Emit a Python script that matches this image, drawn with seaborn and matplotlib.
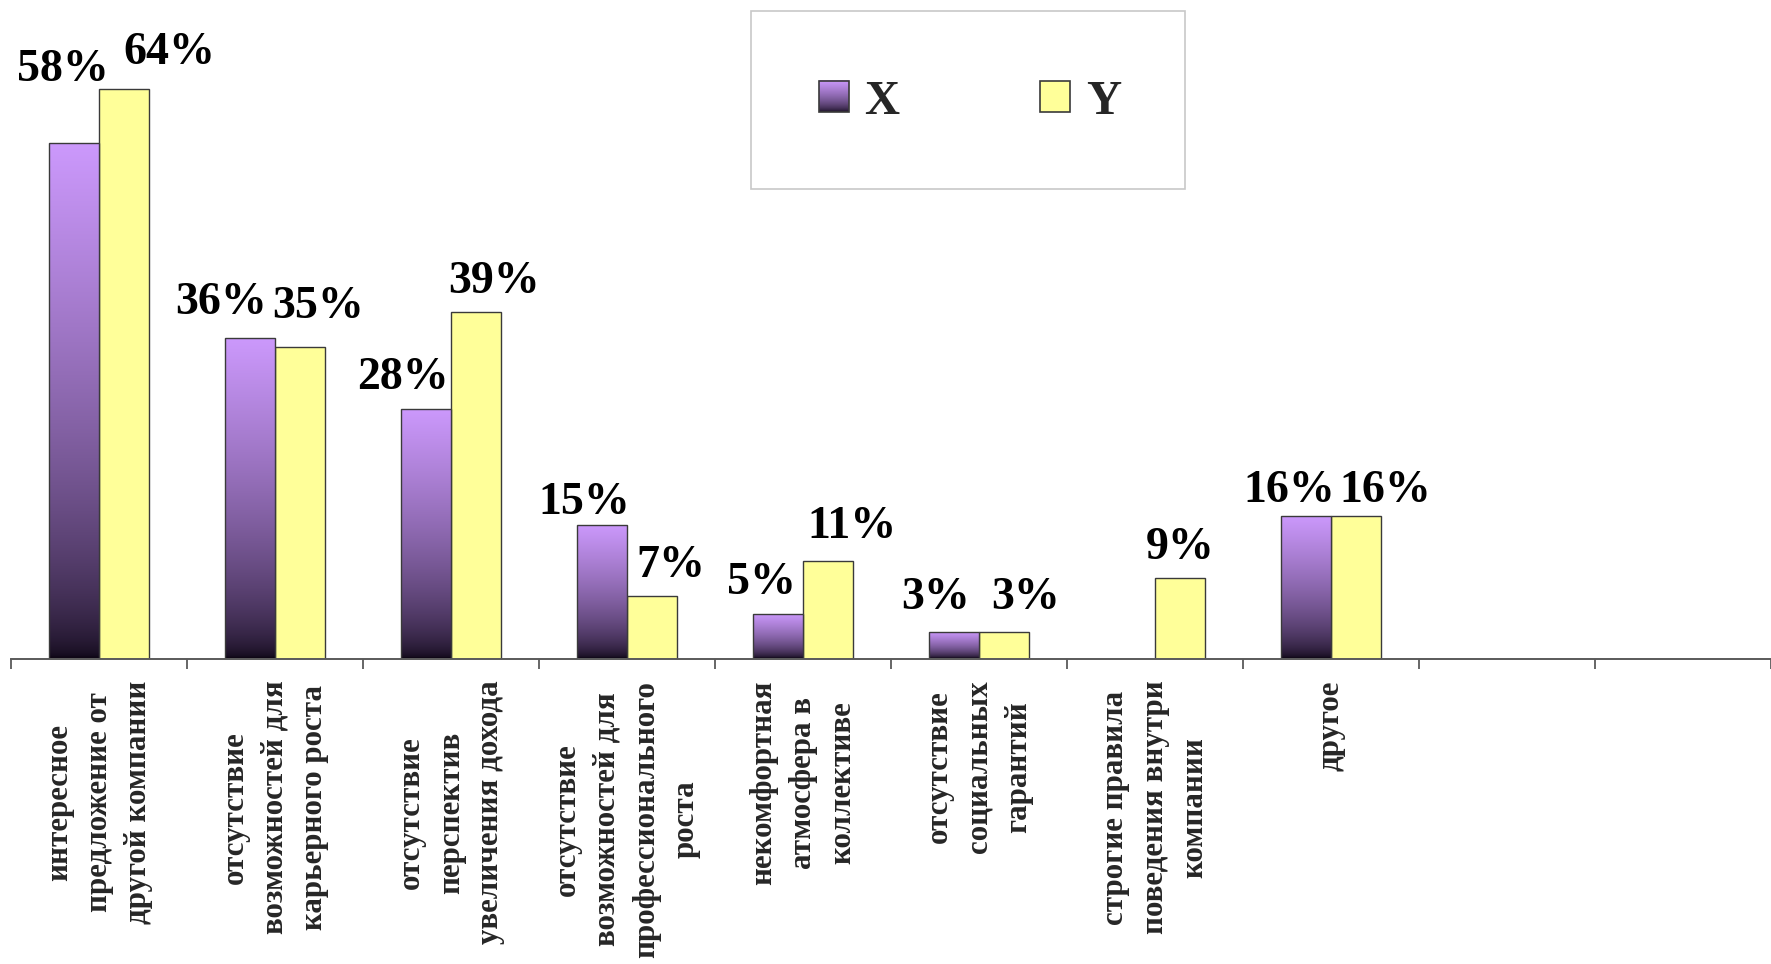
import numpy as np
import pandas as pd
import matplotlib
matplotlib.use("Agg")
import matplotlib.pyplot as plt
import seaborn as sns
from matplotlib.patches import Rectangle
from matplotlib.legend_handler import HandlerBase
from matplotlib.image import BboxImage
from matplotlib.transforms import Bbox, TransformedBbox

# data (percent)
categories = [
    "интересное\nпредложение от\nдругой компании",
    "отсутствие\nвозможностей для\nкарьерного роста",
    "отсутствие\nперспектив\nувеличения дохода",
    "отсутствие\nвозможностей для\nпрофессионального\nроста",
    "некомфортная\nатмосфера в\nколлективе",
    "отсутствие\nсоциальных\nгарантий",
    "строгие правила\nповедения внутри\nкомпании",
    "другое",
]
series_names = ["X", "Y"]
x_values = [58, 36, 28, 15, 5, 3, np.nan, 16]
y_values = [64, 35, 39, 7, 11, 3, 9, 16]
n_slots = 10  # the category axis has two empty slots at the right

# label nudges in pixels (dx, gap above bar top), as placed in the original
x_label_dx = [-11, -29, -23, -18, -17, -18, 0, -17]
x_label_gap = [62, 24, 20, 11, 20, 23, 0, 14]
y_label_dx = [45, 18, 18, 19, 24, 21, 0, 29]
y_label_gap = [25, 29, 19, 19, 23, 23, 19, 14]

df = pd.DataFrame({
    "category": categories * 2,
    "series": ["X"] * len(categories) + ["Y"] * len(categories),
    "value": x_values + y_values,
})

sns.set_style("white")
plt.rcParams["font.family"] = ["Liberation Serif", "DejaVu Serif"]

W, H = 1771, 964
fig = plt.figure(figsize=(W / 100, H / 100), dpi=100)
left_px, base_px, cat_px, pct_px = 11.3, 658.5, 176.7, 8.895
ax = fig.add_axes([left_px / W, (H - base_px) / H, (W - left_px) / W, base_px / H])

sns.barplot(data=df, x="category", y="value", hue="series", order=categories,
            hue_order=series_names, palette={"X": "#b488e6", "Y": "#ffff99"},
            saturation=1, width=0.57, gap=0, edgecolor="#3a3a3a", linewidth=1.0,
            errorbar=None, legend=False, ax=ax)


def gradient_rgb(n=256):
    # light purple at top fading to near-black at the bottom
    top = np.array([0.80, 0.60, 0.99])
    bottom = np.array([0.06, 0.03, 0.09])
    s = np.linspace(1, 0, n) ** 0.6
    return (bottom + (top - bottom) * s[:, None])[:, None, :]


grad = gradient_rgb()

# gradient fill for the X bars
for p in ax.containers[0]:
    x0, w, h = p.get_x(), p.get_width(), p.get_height()
    if not np.isfinite(h) or h == 0:
        continue
    im = ax.imshow(grad, extent=(x0, x0 + w, 0, h), aspect="auto",
                   interpolation="bilinear", zorder=p.get_zorder())
    im.set_clip_path(p)
    p.set_facecolor("none")
    p.set_zorder(p.get_zorder() + 0.1)

ax.set_xlim(-0.5, -0.5 + (W - left_px) / cat_px)
ax.set_ylim(0, base_px / pct_px)

# value labels
for k, cont in enumerate(ax.containers):
    dxs = x_label_dx if k == 0 else y_label_dx
    gaps = x_label_gap if k == 0 else y_label_gap
    for p in cont:
        h = p.get_height()
        if not np.isfinite(h) or h == 0:
            continue
        cx = p.get_x() + p.get_width() / 2
        i = int(round(cx))
        ax.annotate(f"{h:.0f}%", xy=(cx, h), xytext=(dxs[i], gaps[i]),
                    textcoords="offset pixels", ha="center", va="baseline",
                    fontsize=33, fontweight="bold", color="black",
                    annotation_clip=False)

# ticks on category boundaries, labels at category centres
ax.set_xticks(np.arange(-0.5, n_slots + 0.5, 1), labels=[""] * (n_slots + 1))
ax.set_xticks(np.arange(len(categories)), labels=categories, minor=True)
ax.tick_params(axis="x", which="major", length=7.2, width=1.3, color="#5a5a5a",
               direction="out", bottom=True)
ax.tick_params(axis="x", which="minor", length=0, pad=16)
for t in ax.get_xticklabels(minor=True):
    t.set_rotation(90)
    t.set_fontsize(22.3)
    t.set_fontweight("bold")
    t.set_linespacing(1.48)
    t.set_va("top")
    t.set_ha("center")
ax.set_yticks([])
ax.set_xlabel("")
ax.set_ylabel("")
for s in ["left", "top", "right"]:
    ax.spines[s].set_visible(False)
ax.spines["bottom"].set_color("#5a5a5a")
ax.spines["bottom"].set_linewidth(1.4)


class GradientHandler(HandlerBase):
    def create_artists(self, legend, orig_handle, xdescent, ydescent,
                       width, height, fontsize, trans):
        bb = TransformedBbox(Bbox.from_bounds(-xdescent, -ydescent, width, height), trans)
        img = BboxImage(bb, interpolation="bilinear")
        img.set_data(grad)
        edge = Rectangle((-xdescent, -ydescent), width, height, facecolor="none",
                         edgecolor="#3a3a3a", lw=1.2, transform=trans)
        return [img, edge]


# legend box
fig.patches.append(Rectangle((751 / W, 1 - 189 / H), 434 / W, 178 / H,
                             transform=fig.transFigure, facecolor="white",
                             edgecolor="#c8c8c8", lw=1.2, zorder=5))
h_x = Rectangle((0, 0), 1, 1)
h_y = Rectangle((0, 0), 1, 1, facecolor="#ffff99", edgecolor="#3a3a3a", lw=1.2)
leg = fig.legend([h_x, h_y], series_names, loc="center",
                 bbox_to_anchor=(970 / W, 1 - 102 / H), bbox_transform=fig.transFigure,
                 ncol=2, frameon=False, handlelength=0.61, handleheight=0.61,
                 handletextpad=0.32, columnspacing=2.9,
                 prop={"family": "Liberation Serif", "weight": "bold", "size": 35},
                 handler_map={h_x: GradientHandler()})
leg.set_zorder(6)

fig.savefig("out.png", dpi=100)
